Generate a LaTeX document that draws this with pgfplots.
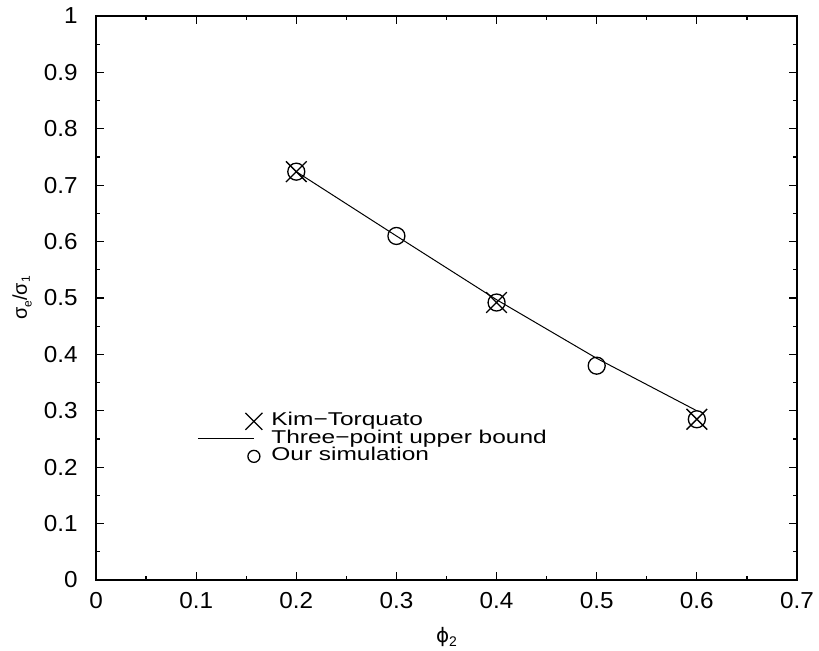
\documentclass[border=0pt]{standalone}
\usepackage{fontspec}
\setmainfont{Liberation Sans}
\newfontfamily\legfont[FakeStretch=1.32]{Liberation Sans}
\newfontfamily\tickfont[FakeStretch=1.05]{Liberation Sans}
\newfontfamily\symfont{DejaVu Sans}
\usepackage{pgfplots}
\pgfplotsset{compat=1.18}
\pgfplotsset{
  legx/.style={legend image code/.code={\draw[##1, mark size=6bp] plot coordinates {(28bp,0bp)};}},
  lego/.style={legend image code/.code={\draw[##1, mark size=3bp] plot coordinates {(28bp,0bp)};}},
  legline/.style={legend image code/.code={\draw[##1] (0bp,0bp) -- (28bp,0bp);}},
}

\begin{document}
\begin{tikzpicture}
\begin{axis}[
  at={(0,0)}, anchor=south west,
  scale only axis, width=350.5bp, height=282bp,
  xmin=0, xmax=0.7, ymin=0, ymax=1,
  xtick={0,0.1,...,0.7}, ytick={0,0.1,...,1},
  minor tick num=1,
  tick align=inside, tick pos=both,
  major tick length=4bp, minor tick length=2bp,
  axis line style={line width=0.75bp},
  every tick/.style={black, line width=0.6bp},
  /pgf/number format/assume math mode=true,
  tick label style={font=\tickfont\fontsize{11.6}{13}\selectfont},
  xticklabel style={inner sep=0pt, anchor=north, yshift=-6bp},
  yticklabel style={inner sep=0pt, anchor=east, xshift=-9bp},
  xlabel={{\symfont ϕ}\raisebox{-0.35ex}{\fontsize{7}{8}\selectfont 2}},
  ylabel={σ\raisebox{-0.45ex}{\fontsize{6}{7}\selectfont e}/σ\raisebox{-0.3ex}{\fontsize{6}{7}\selectfont 1}},
  label style={font=\fontsize{11.5}{13}\selectfont},
  every axis x label/.style={at={([yshift=-28.5bp]axis description cs:0.5,0)}, anchor=center},
  every axis y label/.style={at={([xshift=-37bp]axis description cs:0,0.5)}, anchor=center, rotate=90},
  legend style={at={(axis description cs:0.1441,0.2975)}, anchor=north west,
                draw=none, fill=none, inner sep=0pt,
                font=\legfont\fontsize{9.3}{11}\selectfont,
                nodes={inner sep=0pt, text height=6.6bp, text depth=2.15bp},
                /tikz/every odd column/.append style={column sep=4.5bp}},
  legend cell align=left,
]

% Kim-Torquato
\addplot[only marks, black, mark=x, mark size=7.3bp, mark options={line width=0.65bp}, legx]
  coordinates {(0.2,0.724) (0.4,0.492) (0.6,0.285)};
\addlegendentry{Kim−Torquato}

% three-point upper bound
\addplot[black, line width=0.5bp, no marks, legline]
  coordinates {(0.2,0.724) (0.3,0.610) (0.4,0.497) (0.5,0.393) (0.6,0.300)};
\addlegendentry{Three−point upper bound}

% our simulation
\addplot[only marks, black, mark=o, mark size=4.25bp, mark options={line width=0.65bp}, lego]
  coordinates {(0.2,0.724) (0.3,0.610) (0.4,0.492) (0.5,0.380) (0.6,0.285)};
\addlegendentry{Our simulation}
\end{axis}
\pgfresetboundingbox
\path[use as bounding box] (-48bp,-35.5bp) rectangle (361.5bp,290bp);
\end{tikzpicture}
\end{document}
